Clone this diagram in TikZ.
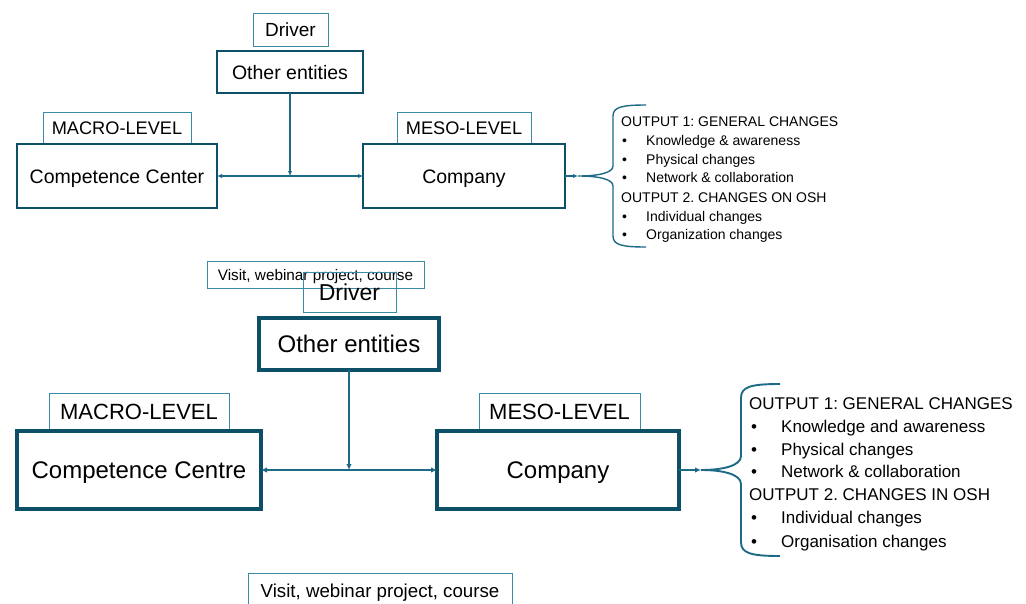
\documentclass[tikz,border=0pt]{standalone}
\usepackage{fontspec}
\setmainfont{Liberation Sans}
\usetikzlibrary{arrows.meta}
\definecolor{thickc}{HTML}{0E4F68}
\definecolor{thinc}{HTML}{3A8CA6}
\definecolor{linec}{HTML}{1C6A86}
\newcommand{\fsz}[1]{\fontsize{#1}{#1}\selectfont}
\frenchspacing
\begin{document}
\begin{tikzpicture}[x=1pt,y=-1pt,
  fs/.style args={#1/#2}{font=\fsz{#1}, text height=#2pt, text depth=0pt},
  bigboxa/.style={draw=thickc, line width=2.5pt, inner sep=0pt, outer sep=0pt, fs=19.5/14},
  bigboxb/.style={draw=thickc, line width=3.2pt, inner sep=0pt, outer sep=0pt, fs=24/17.2},
  thinbox/.style={draw=thinc, line width=1pt, inner sep=0pt, outer sep=0pt},
  conna/.style={draw=linec, line width=1.4pt},
  connb/.style={draw=linec, line width=1.9pt},
  tipa/.style={-{Latex[length=5pt,width=4.5pt]}},
  tipb/.style={-{Latex[length=6pt,width=5.5pt]}},
  bothtipa/.style={{Latex[length=5pt,width=4.5pt]}-{Latex[length=5pt,width=4.5pt]}},
  bothtipb/.style={{Latex[length=6pt,width=5.5pt]}-{Latex[length=6pt,width=5.5pt]}},
  lista/.style={anchor=west, inner sep=0pt, fs=14/10},
  listb/.style={anchor=west, inner sep=0pt, fs=17/12.2}
]
\useasboundingbox (0,0) rectangle (1026,603);
\clip (0,0) rectangle (1026,603);

% ---------- top diagram ----------
\node[thinbox, minimum width=75pt, minimum height=33pt, fs=19/13.6] (drv1) at (290.5,29.5) {Driver};
\node[bigboxa, minimum width=146pt, minimum height=42pt] (oth1) at (290,72) {Other entities};
\node[thinbox, minimum width=148pt, minimum height=32pt, fs=18.2/13] (mac1) at (117,128) {MACRO-LEVEL};
\node[bigboxa, minimum width=200pt, minimum height=64pt] (cc1) at (117,176) {Competence Center};
\node[thinbox, minimum width=134pt, minimum height=32pt, fs=18.2/13] (mes1) at (464,128) {MESO-LEVEL};
\node[bigboxa, minimum width=202pt, minimum height=64pt] (co1) at (464,176) {Company};
\coordinate (j1) at (290,176);
\coordinate (b1tip) at (578,176);

\draw[conna, bothtipa] (cc1.east) -- (co1.west);
\draw[conna, tipa] (oth1.south) -- (j1);
\draw[conna, tipa] (co1.east) -- (b1tip);
\draw[conna] (646,105) .. controls (622,105) and (613,107) .. (613,116) -- (613,166)
  .. controls (613,173) and (598,176) .. (b1tip)
  .. controls (598,176) and (613,179) .. (613,186) -- (613,236)
  .. controls (613,245) and (622,247) .. (646,247);

\node[lista] (o1h) at (621,121) {OUTPUT 1: GENERAL CHANGES};
\node[lista] (o1b1) at (622,140) {•};
\node[lista] (o1t1) at (646,140) {Knowledge \& awareness};
\node[lista] (o1b2) at (622,159) {•};
\node[lista] (o1t2) at (646,159) {Physical changes};
\node[lista] (o1b3) at (622,177) {•};
\node[lista] (o1t3) at (646,177) {Network \& collaboration};
\node[lista] (o1h2) at (621,197) {OUTPUT 2. CHANGES ON OSH};
\node[lista] (o1b4) at (622,216) {•};
\node[lista] (o1t4) at (646,216) {Individual changes};
\node[lista] (o1b5) at (622,234) {•};
\node[lista] (o1t5) at (646,234) {Organization changes};

% ---------- bottom diagram ----------
\node[thinbox, minimum width=217pt, minimum height=27pt, fs=15.3/11] (vis1) at (315.5,275) {Visit, webinar project, course};
\node[thinbox, minimum width=93pt, minimum height=40pt, fs=23/16.5] (drv2) at (349.5,292) {Driver};
\node[bigboxb, minimum width=180pt, minimum height=52pt] (oth2) at (349,344) {Other entities};
\node[thinbox, minimum width=180pt, minimum height=38pt, fs=22/15.75] (mac2) at (139,412) {MACRO-LEVEL};
\node[bigboxb, minimum width=244pt, minimum height=78pt] (cc2) at (139,470) {Competence Centre};
\node[thinbox, minimum width=161pt, minimum height=38pt, fs=22/15.75] (mes2) at (559.5,412) {MESO-LEVEL};
\node[bigboxb, minimum width=242pt, minimum height=78pt] (co2) at (558,470) {Company};
\node[thinbox, minimum width=264pt, minimum height=36pt, fs=18.7/13.4] (vis2) at (380,591) {Visit, webinar project, course};
\coordinate (j2) at (349,470);
\coordinate (b2tip) at (701,470);

\draw[connb, bothtipb] (cc2.east) -- (co2.west);
\draw[connb, tipb] (oth2.south) -- (j2);
\draw[connb, tipb] (co2.east) -- (b2tip);
\draw[connb] (780,384) .. controls (750,384) and (741,387) .. (741,398) -- (741,456)
  .. controls (741,466) and (722,470) .. (b2tip)
  .. controls (722,470) and (741,474) .. (741,484) -- (741,542)
  .. controls (741,553) and (750,556) .. (780,556);

\node[listb] (o2h) at (749,403) {OUTPUT 1: GENERAL CHANGES};
\node[listb] (o2b1) at (751,426) {•};
\node[listb] (o2t1) at (781,426) {Knowledge and awareness};
\node[listb] (o2b2) at (751,449) {•};
\node[listb] (o2t2) at (781,449) {Physical changes};
\node[listb] (o2b3) at (751,471) {•};
\node[listb] (o2t3) at (781,471) {Network \& collaboration};
\node[listb] (o2h2) at (749,494) {OUTPUT 2. CHANGES IN OSH};
\node[listb] (o2b4) at (751,517) {•};
\node[listb] (o2t4) at (781,517) {Individual changes};
\node[listb] (o2b5) at (751,541) {•};
\node[listb] (o2t5) at (781,541) {Organisation changes};
\end{tikzpicture}
\end{document}
